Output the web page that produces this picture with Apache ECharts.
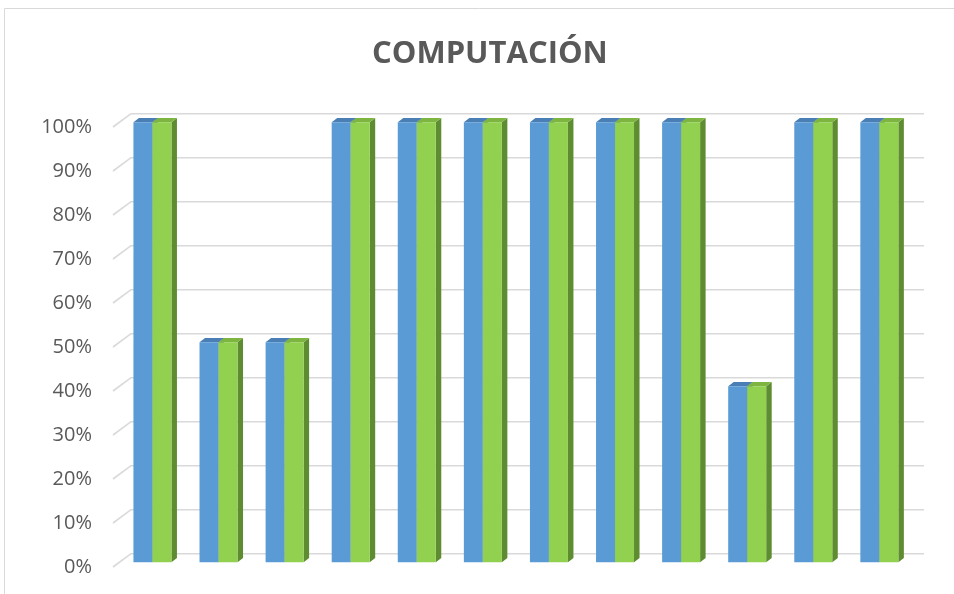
<!DOCTYPE html>
<html>
<head>
<meta charset="utf-8">
<script src="https://cdn.jsdelivr.net/npm/echarts@6/dist/echarts.min.js"></script>
<style>
html,body{margin:0;padding:0;background:#fff;}
#chart{width:954px;height:594px;}
</style>
</head>
<body>
<div id="chart"></div>
<script>
const categories = ['1','2','3','4','5','6','7','8','9','10','11','12'];
const seriesA = [1, 0.5, 0.5, 1, 1, 1, 1, 1, 1, 0.4, 1, 1];
const seriesB = [1, 0.5, 0.5, 1, 1, 1, 1, 1, 1, 0.4, 1, 1];
const yTicks = [0, 0.1, 0.2, 0.3, 0.4, 0.5, 0.6, 0.7, 0.8, 0.9, 1];

// 3D styling (offsets)
const WALL = [18, -13.3];   // back wall offset from front plane
const FRONT = [6.4, -4.7];  // bar front-face offset
const DEPTH = [5.5, -4.4];  // bar depth
const BW = 19;

function gridRender(params, api) {
  const cs = params.coordSys;
  const p = api.coord([0, api.value(0)]);
  const y = p[1];
  const x0 = cs.x, x1 = cs.x + cs.width;
  return {
    type: 'polyline',
    shape: { points: [[x0, y], [x0 + WALL[0], y + WALL[1]], [x1 + WALL[0], y + WALL[1]]] },
    style: { stroke: '#D9D9D9', lineWidth: 1.6, fill: null },
    silent: true
  };
}

function makeBarRender(side, front, top, sideCol) {
  return function (params, api) {
    const c = api.coord([api.value(0), api.value(1)]);
    const b = api.coord([api.value(0), 0]);
    const x0 = c[0] + (side < 0 ? -BW : 0) + FRONT[0];
    const t = c[1] + FRONT[1];
    const bt = b[1] + FRONT[1];
    const dx = DEPTH[0], dy = DEPTH[1];
    return {
      type: 'group',
      children: [
        { type: 'polygon', shape: { points: [[x0 + BW, t], [x0 + BW + dx, t + dy], [x0 + BW + dx, bt + dy], [x0 + BW, bt]] }, style: { fill: sideCol } },
        { type: 'polygon', shape: { points: [[x0, t], [x0 + BW, t], [x0 + BW + dx, t + dy], [x0 + dx, t + dy]] }, style: { fill: top } },
        { type: 'rect', shape: { x: x0, y: t, width: BW, height: bt - t }, style: { fill: front } }
      ]
    };
  };
}

const chart = echarts.init(document.getElementById('chart'));
chart.setOption({
  animation: false,
  backgroundColor: '#fff',
  title: {
    text: 'COMPUTACIÓN',
    left: 367,
    top: 34,
    textStyle: { fontFamily: 'Open Sans', fontWeight: 'bold', fontSize: 31, color: '#595959' }
  },
  graphic: [{
    type: 'rect',
    shape: { x: 4.5, y: 8.5, width: 1000, height: 700 },
    style: { fill: null, stroke: '#D9D9D9', lineWidth: 1 },
    silent: true, z: -10
  }],
  grid: { left: 113, right: 48, top: 127, bottom: 27 },
  xAxis: {
    type: 'category',
    data: categories,
    axisLine: { show: false },
    axisTick: { show: false },
    axisLabel: { show: false },
    splitLine: { show: false }
  },
  yAxis: {
    type: 'value',
    min: 0, max: 1, interval: 0.1,
    axisLine: { show: false },
    axisTick: { show: false },
    splitLine: { show: false },
    axisLabel: {
      margin: 21,
      fontFamily: 'Open Sans',
      fontSize: 20,
      color: '#595959',
      formatter: v => Math.round(v * 100) + '%'
    }
  },
  series: [
    {
      type: 'custom',
      name: 'grid',
      renderItem: gridRender,
      data: yTicks.map(v => [v]),
      encode: { y: 0 },
      z: 1,
      silent: true
    },
    {
      type: 'custom',
      name: 'Serie 1',
      renderItem: makeBarRender(-1, '#5B9BD5', '#4A7FB5', '#3F6F9E'),
      data: seriesA.map((v, i) => [i, v]),
      encode: { x: 0, y: 1 },
      z: 2
    },
    {
      type: 'custom',
      name: 'Serie 2',
      renderItem: makeBarRender(1, '#92D050', '#7DB540', '#5E8C30'),
      data: seriesB.map((v, i) => [i, v]),
      encode: { x: 0, y: 1 },
      z: 3
    }
  ]
});
</script>
</body>
</html>
